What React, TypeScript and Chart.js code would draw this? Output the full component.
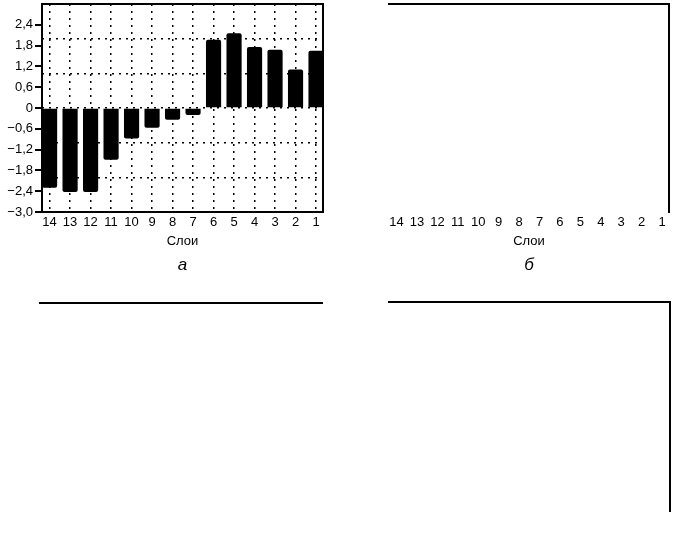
import React, { useEffect, useRef } from 'react';
import { Chart, registerables } from 'chart.js';

Chart.register(...registerables);

// ---- data ----
const layers = [14, 13, 12, 11, 10, 9, 8, 7, 6, 5, 4, 3, 2, 1];
const values = [-2.29, -2.41, -2.41, -1.48, -0.87, -0.56, -0.33, -0.19, 1.96, 2.15, 1.75, 1.67, 1.1, 1.64];
const yTickValues = [-3, -2.4, -1.8, -1.2, -0.6, 0, 0.6, 1.2, 1.8, 2.4];
const yTickLabels = ['−3,0', '−2,4', '−1,8', '−1,2', '−0,6', '0', '0,6', '1,2', '1,8', '2,4'];
const yGridValues = [-3, -2, -1, 0, 1, 2, 3];
const yMin = -3;
const yMax = 3;
const xMin = 0.66;
const xMax = 14.37;
const axisTitle = 'Слои';
const panelLabels = ['а', 'б'];

const FONT = "'Liberation Sans', Arial, Helvetica, sans-serif";
const PANEL_FONT_SIZE = 17;
const PANEL_PAD_BOTTOM = 5;

type Spec = {
  left: number;
  top: number;
  width: number;
  height: number;
  area: { left: number; right: number; top: number; bottom: number };
  bars: boolean;
  grid: boolean;
  yLabels: boolean;
  xLabels: boolean;
  borders: { top: boolean; right: boolean; bottom: boolean; left: boolean };
  xTitle?: string;
  panel?: string;
};

const specs: Spec[] = [
  {
    left: 0, top: 0, width: 340, height: 280,
    area: { left: 42, right: 323, top: 4, bottom: 212 },
    bars: true, grid: true, yLabels: true, xLabels: true,
    borders: { top: true, right: true, bottom: true, left: true },
    xTitle: axisTitle, panel: panelLabels[0],
  },
  {
    left: 340, top: 0, width: 337, height: 280,
    area: { left: 49, right: 329, top: 4, bottom: 212 },
    bars: false, grid: false, yLabels: false, xLabels: true,
    borders: { top: true, right: true, bottom: false, left: false },
    xTitle: axisTitle, panel: panelLabels[1],
  },
  {
    left: 0, top: 280, width: 340, height: 267,
    area: { left: 40, right: 322, top: 23, bottom: 231 },
    bars: false, grid: false, yLabels: false, xLabels: false,
    borders: { top: true, right: false, bottom: false, left: false },
  },
  {
    left: 340, top: 280, width: 337, height: 267,
    area: { left: 49, right: 330, top: 22, bottom: 231 },
    bars: false, grid: false, yLabels: false, xLabels: false,
    borders: { top: true, right: true, bottom: false, left: false },
  },
];

const zeroPad = (s: any) => {
  s.paddingTop = 0;
  s.paddingBottom = 0;
  s.paddingLeft = 0;
  s.paddingRight = 0;
};

function makeConfig(spec: Spec): any {
  const titleH = spec.panel ? PANEL_FONT_SIZE * 1.2 + PANEL_PAD_BOTTOM : 0;
  const xAxisH = spec.height - spec.area.bottom - titleH;
  const tickFont = { family: FONT, size: 13, lineHeight: 1.2 };
  return {
    type: 'bar',
    data: {
      datasets: spec.bars
        ? [
            {
              data: layers.map((l, i) => ({ x: l, y: values[i] })),
              backgroundColor: '#000',
              borderWidth: 0,
              barThickness: 14.5,
              borderRadius: 2,
              xAxisID: 'x',
              yAxisID: 'y',
            },
          ]
        : [],
    },
    options: {
      responsive: false,
      animation: false,
      events: [],
      layout: {
        padding: { left: 0, top: spec.area.top, right: spec.width - spec.area.right, bottom: 0 },
      },
      plugins: {
        legend: { display: false },
        tooltip: { enabled: false },
        title: {
          display: !!spec.panel,
          text: spec.panel || '',
          position: 'bottom',
          fullSize: false,
          color: '#000',
          font: { family: FONT, size: PANEL_FONT_SIZE, style: 'italic', weight: 'normal', lineHeight: 1.2 },
          padding: { top: 0, bottom: PANEL_PAD_BOTTOM },
        },
      },
      scales: {
        x: {
          type: 'linear',
          position: 'bottom',
          reverse: true,
          offset: false,
          min: xMin,
          max: xMax,
          afterBuildTicks: (s: any) => {
            s.ticks = layers.map((v) => ({ value: v }));
          },
          afterFit: (s: any) => {
            s.height = xAxisH;
            zeroPad(s);
          },
          ticks: {
            display: spec.xLabels,
            autoSkip: false,
            maxRotation: 0,
            minRotation: 0,
            padding: 3,
            color: '#000',
            font: tickFont,
            callback: (v: any) => String(v),
          },
          grid: { display: spec.grid, offset: false, drawTicks: false, color: '#000', lineWidth: 1.5 },
          border: { display: spec.borders.bottom, width: 2, color: '#000', dash: [2, 5], z: 1 },
          title: {
            display: !!spec.xTitle,
            text: spec.xTitle || '',
            color: '#000',
            font: { family: FONT, size: 13, lineHeight: 1.2 },
            padding: { top: 0, bottom: 5 },
          },
        },
        x2: {
          type: 'linear',
          position: 'top',
          reverse: true,
          offset: false,
          min: xMin,
          max: xMax,
          ticks: { display: false },
          grid: { display: false, offset: false },
          border: { display: spec.borders.top, width: 2, color: '#000', z: 1 },
          afterFit: (s: any) => {
            s.height = 0;
            zeroPad(s);
          },
        },
        y: {
          type: 'linear',
          position: 'left',
          min: yMin,
          max: yMax,
          afterBuildTicks: (s: any) => {
            s.ticks = yTickValues.map((v) => ({ value: v }));
          },
          afterFit: (s: any) => {
            s.width = spec.area.left;
            zeroPad(s);
          },
          ticks: {
            display: spec.yLabels,
            padding: 2,
            color: '#000',
            font: tickFont,
            callback: (_v: any, i: number) => yTickLabels[i],
          },
          grid: {
            display: spec.yLabels,
            drawOnChartArea: false,
            drawTicks: true,
            tickLength: 7,
            color: '#000',
            lineWidth: 2,
          },
          border: { display: spec.borders.left, width: 2, color: '#000', z: 1 },
        },
        yg: {
          type: 'linear',
          position: 'left',
          display: spec.grid,
          min: yMin,
          max: yMax,
          afterBuildTicks: (s: any) => {
            s.ticks = yGridValues.map((v) => ({ value: v }));
          },
          afterFit: (s: any) => {
            s.width = 0;
            zeroPad(s);
          },
          ticks: { display: false },
          grid: { drawOnChartArea: true, drawTicks: false, color: '#000', lineWidth: 1.5 },
          border: { display: false, dash: [2, 5] },
        },
        y2: {
          type: 'linear',
          position: 'right',
          min: yMin,
          max: yMax,
          ticks: { display: false },
          grid: { display: false },
          border: { display: spec.borders.right, width: 2, color: '#000', z: 1 },
          afterFit: (s: any) => {
            s.width = 0;
            zeroPad(s);
          },
        },
      },
    },
  };
}

export default function App() {
  const refs = useRef<(HTMLCanvasElement | null)[]>([]);

  useEffect(() => {
    const charts: Chart[] = [];
    specs.forEach((spec, i) => {
      const c = refs.current[i];
      if (!c) return;
      charts.push(new Chart(c, makeConfig(spec)));
    });
    return () => {
      charts.forEach((ch) => ch.destroy());
    };
  }, []);

  return (
    <div
      style={{
        position: 'absolute',
        left: 0,
        top: 0,
        width: 677,
        height: 547,
        background: '#fff',
        overflow: 'hidden',
      }}
    >
      {specs.map((spec, i) => (
        <canvas
          key={i}
          ref={(el) => {
            refs.current[i] = el;
          }}
          width={spec.width}
          height={spec.height}
          style={{
            position: 'absolute',
            left: spec.left,
            top: spec.top,
            width: spec.width,
            height: spec.height,
            display: 'block',
          }}
        />
      ))}
    </div>
  );
}
